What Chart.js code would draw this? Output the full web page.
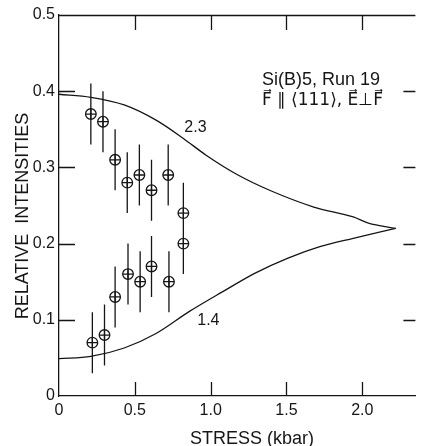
<!DOCTYPE html>
<html>
<head>
<meta charset="utf-8">
<script src="https://cdn.jsdelivr.net/npm/chart.js@4.4.1/dist/chart.umd.min.js"></script>
<style>
  html, body { margin: 0; padding: 0; background: #fff; }
  #wrap { width: 422px; height: 446px; }
</style>
</head>
<body>
<div id="wrap"><canvas id="chart" width="422" height="446"></canvas></div>
<script>
(function() {
  'use strict';

  var INK = '#151515';
  var FONT = '"Liberation Sans", Arial, sans-serif';

  // measured intensities, upper and lower branch (with +/- error)
  var stressHigh = [0.21, 0.29, 0.37, 0.45, 0.53, 0.61, 0.72, 0.82];
  var intensityHigh = [0.37, 0.36, 0.31, 0.28, 0.29, 0.27, 0.29, 0.24];
  var errHigh = [0.04, 0.04, 0.04, 0.04, 0.04, 0.04, 0.04, 0.04];
  var stressLow = [0.22, 0.30, 0.37, 0.455, 0.535, 0.61, 0.725, 0.82];
  var intensityLow = [0.07, 0.08, 0.13, 0.16, 0.15, 0.17, 0.15, 0.20];
  var errLow = [0.04, 0.04, 0.04, 0.04, 0.04, 0.04, 0.04, 0.04];

  // calculated curves
  var curveStressHigh = [0, 0.21, 0.43, 0.64, 0.82, 0.97, 1.18, 1.40, 1.68, 1.94, 2.04, 2.22];
  var curveHigh = [0.396, 0.392, 0.382, 0.362, 0.338, 0.316, 0.290, 0.269, 0.248, 0.235, 0.227, 0.220];
  var curveStressLow = [0, 0.21, 0.43, 0.64, 0.86, 1.08, 1.29, 1.51, 1.72, 1.94, 2.22];
  var curveLow = [0.049, 0.052, 0.063, 0.082, 0.111, 0.137, 0.161, 0.181, 0.196, 0.207, 0.220];

  var curveNames = ['2.3', '1.4'];
  var curveNameAt = [[0.90, 0.352], [0.985, 0.099]];

  var xTicks = [0.5, 1.0, 1.5, 2.0];
  var yTicks = [0.1, 0.2, 0.3, 0.4];

  function pts(xs, ys) {
    return xs.map(function(x, i) { return { x: x, y: ys[i] }; });
  }

  function curve(xs, ys) {
    return { data: pts(xs, ys), showLine: true, pointRadius: 0, borderWidth: 1.3,
      borderColor: INK, cubicInterpolationMode: 'monotone', fill: false };
  }

  function markers(xs, ys, style) {
    return { data: pts(xs, ys), showLine: false, pointStyle: style, pointRadius: 5.3,
      borderWidth: 1.3, borderColor: INK, backgroundColor: 'rgba(0,0,0,0)' };
  }

  function fmt(v) { return v === 0 ? '0' : v.toFixed(1); }

  // error bars, tick labels, inward ticks, top frame and text
  var framePlugin = {
    id: 'frame',
    beforeDatasetsDraw: function(chart) {
      var ctx = chart.ctx, xs = chart.scales.x, ys = chart.scales.y;
      ctx.save();
      ctx.strokeStyle = INK;
      ctx.lineWidth = 1.3;
      ctx.beginPath();
      [[stressHigh, intensityHigh, errHigh], [stressLow, intensityLow, errLow]].forEach(function(s) {
        s[0].forEach(function(x, i) {
          var px = xs.getPixelForValue(x);
          ctx.moveTo(px, ys.getPixelForValue(s[1][i] + s[2][i]));
          ctx.lineTo(px, ys.getPixelForValue(s[1][i] - s[2][i]));
        });
      });
      ctx.stroke();
      ctx.restore();
    },
    afterDraw: function(chart) {
      var ctx = chart.ctx, a = chart.chartArea, xs = chart.scales.x, ys = chart.scales.y;
      ctx.save();
      ctx.strokeStyle = INK;
      ctx.lineWidth = 1.3;
      ctx.beginPath();
      ctx.moveTo(a.left, a.top + 0.5);
      ctx.lineTo(a.right, a.top + 0.5);
      xTicks.forEach(function(v) {
        var px = Math.round(xs.getPixelForValue(v)) + 0.5;
        ctx.moveTo(px, a.bottom); ctx.lineTo(px, a.bottom - 14);
        ctx.moveTo(px, a.top); ctx.lineTo(px, a.top + 15);
      });
      yTicks.forEach(function(v) {
        var py = Math.round(ys.getPixelForValue(v)) + 0.5;
        ctx.moveTo(a.left, py); ctx.lineTo(a.left + 16, py);
        ctx.moveTo(a.right, py); ctx.lineTo(a.right - 12, py);
      });
      ctx.stroke();

      ctx.fillStyle = INK;
      ctx.font = '16px ' + FONT;

      // tick labels from the scales' own ticks
      ctx.textAlign = 'right';
      ctx.textBaseline = 'middle';
      ys.ticks.forEach(function(t) {
        ctx.fillText(fmt(t.value), a.left - 4, ys.getPixelForValue(t.value));
      });
      ctx.textAlign = 'center';
      ctx.textBaseline = 'top';
      xs.ticks.forEach(function(t) {
        ctx.fillText(fmt(t.value), xs.getPixelForValue(t.value), a.bottom + 7);
      });

      ctx.textBaseline = 'middle';
      curveNames.forEach(function(t, i) {
        ctx.fillText(t, xs.getPixelForValue(curveNameAt[i][0]), ys.getPixelForValue(curveNameAt[i][1]));
      });

      ctx.font = '18px ' + FONT;
      ctx.textBaseline = 'alphabetic';
      ctx.fillText('STRESS (kbar)', 252, 444);

      ctx.save();
      ctx.translate(28, 216);
      ctx.rotate(-Math.PI / 2);
      ctx.fillText('RELATIVE  INTENSITIES', 0, 0);
      ctx.restore();

      ctx.textAlign = 'left';
      ctx.fillText('Si(B)5, Run 19', 262, 85);
      ctx.font = '17px "DejaVu Sans", sans-serif';
      ctx.fillText('F\u20D7 \u2225 \u27E8111\u27E9, E\u20D7\u22A5F\u20D7', 262, 105);
      ctx.restore();
    }
  };

  new Chart(document.getElementById('chart'), {
    type: 'scatter',
    data: {
      datasets: [
        curve(curveStressHigh, curveHigh),
        curve(curveStressLow, curveLow),
        markers(stressHigh, intensityHigh, 'circle'),
        markers(stressHigh, intensityHigh, 'cross'),
        markers(stressLow, intensityLow, 'circle'),
        markers(stressLow, intensityLow, 'cross')
      ]
    },
    options: {
      responsive: false,
      animation: false,
      events: [],
      layout: { padding: { top: 15, left: 0, right: 0, bottom: 0 } },
      plugins: { legend: { display: false }, tooltip: { enabled: false } },
      scales: {
        x: {
          type: 'linear', min: 0, max: 2.35,
          grid: { display: false, drawTicks: false },
          border: { display: true, color: INK, width: 1.3 },
          ticks: { display: false, stepSize: 0.5, includeBounds: false },
          afterFit: function(s) { s.height = 50; }
        },
        y: {
          type: 'linear', min: 0, max: 0.5,
          grid: { display: false, drawTicks: false },
          border: { display: true, color: INK, width: 1.3 },
          ticks: { display: false, stepSize: 0.1 },
          afterFit: function(s) { s.width = 59; }
        }
      }
    },
    plugins: [framePlugin]
  });
})();
</script>
</body>
</html>
